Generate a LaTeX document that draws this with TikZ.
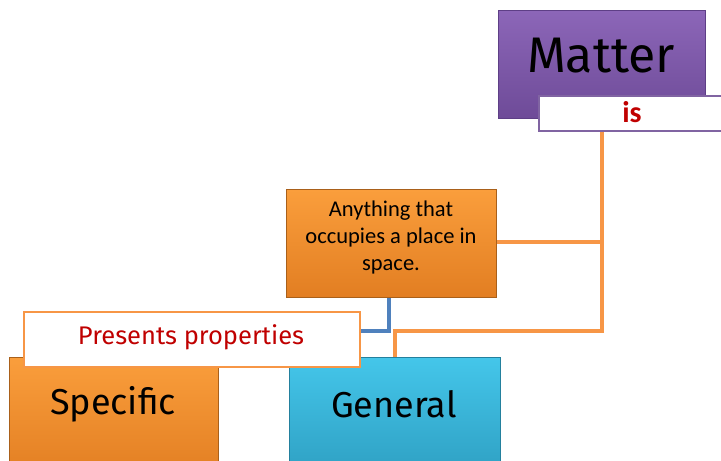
\documentclass[tikz,border=0pt]{standalone}
\usepackage{fontspec}
\setmainfont{Carlito}
\newfontfamily\handfont{Fira Sans}
\definecolor{purpT}{HTML}{8C66B8}
\definecolor{purpB}{HTML}{6E4B98}
\definecolor{purpE}{HTML}{5E3F86}
\definecolor{orT}{HTML}{FA9E3C}
\definecolor{orB}{HTML}{E27E22}
\definecolor{orE}{HTML}{A9601A}
\definecolor{cyT}{HTML}{44C6EA}
\definecolor{cyB}{HTML}{2E9FC2}
\definecolor{cyE}{HTML}{23809D}
\definecolor{lineOr}{HTML}{F79646}
\definecolor{lineBl}{HTML}{4F81BD}
\definecolor{txtRed}{HTML}{C00000}
\definecolor{lblPurp}{HTML}{8064A2}
\tikzset{
  box/.style={rectangle, anchor=north west, inner sep=0pt, align=center, draw, line width=0.8pt},
  purplebox/.style={box, top color=purpT, bottom color=purpB, draw=purpE},
  orangebox/.style={box, top color=orT, bottom color=orB, draw=orE},
  cyanbox/.style={box, top color=cyT, bottom color=cyB, draw=cyE},
  labelbox/.style={rectangle, anchor=north west, inner sep=0pt, fill=white, line width=1.2pt, text=txtRed},
  orline/.style={draw=lineOr, line width=3.5pt},
  blline/.style={draw=lineBl, line width=3.5pt},
}
\begin{document}
\begin{tikzpicture}[x=1pt,y=-1pt]
\useasboundingbox (0,0) rectangle (721,461);
\clip (0,0) rectangle (721,461);
% boxes
\node[purplebox, minimum width=207pt, minimum height=108pt] (matter) at (498,10) {};
\node[font=\handfont\fontsize{50}{50}\selectfont] (mattertxt) at (601,56) {Matter};
\node[orangebox, minimum width=210pt, minimum height=108pt] (anything) at (286,189) {};
\node[font=\fontsize{22.5}{27}\selectfont, align=center] (anytxt) at (391,237) {Anything that\\occupies a place in\\space.};
% connector coordinates
\coordinate (ja) at (602,242);
\coordinate (jb) at (602,331);
\coordinate (jc) at (395,331);
\coordinate (jd) at (389,331);
\node[orangebox, minimum width=209pt, minimum height=120pt] (specific) at (9,357) {};
\node[font=\handfont\fontsize{36}{36}\selectfont] (spectxt) at (113,404) {Specific};
\node[cyanbox, minimum width=211pt, minimum height=120pt] (general) at (289,357) {};
\node[font=\handfont\fontsize{36}{36}\selectfont] (gentxt) at (394,404) {General};
\node[labelbox, draw=lblPurp, minimum width=190pt, minimum height=34pt] (is) at (539,96) {};
\node[font=\fontsize{30}{30}\selectfont\bfseries, text=txtRed] (istxt) at (632,112) {is};
\node[labelbox, draw=lineOr, minimum width=335pt, minimum height=54pt] (presents) at (24,312) {};
\node[font=\handfont\fontsize{25.5}{25.5}\selectfont, text=txtRed] (prestxt) at (191,337) {Presents properties};
% connectors
\draw[orline] (is.south -| ja) -- (jb) -- (jc) -- (general.north -| jc);
\draw[orline] (anything.east |- ja) -- (ja);
\draw[blline] (anything.south -| jd) -- (jd) -- (presents.east |- jd);
% redraw label borders on top of connector ends
\draw[draw=lblPurp, line width=1.2pt] (is.north west) rectangle (is.south east);
\draw[draw=lineOr, line width=1.2pt] (presents.north west) rectangle (presents.south east);
\end{tikzpicture}
\end{document}
